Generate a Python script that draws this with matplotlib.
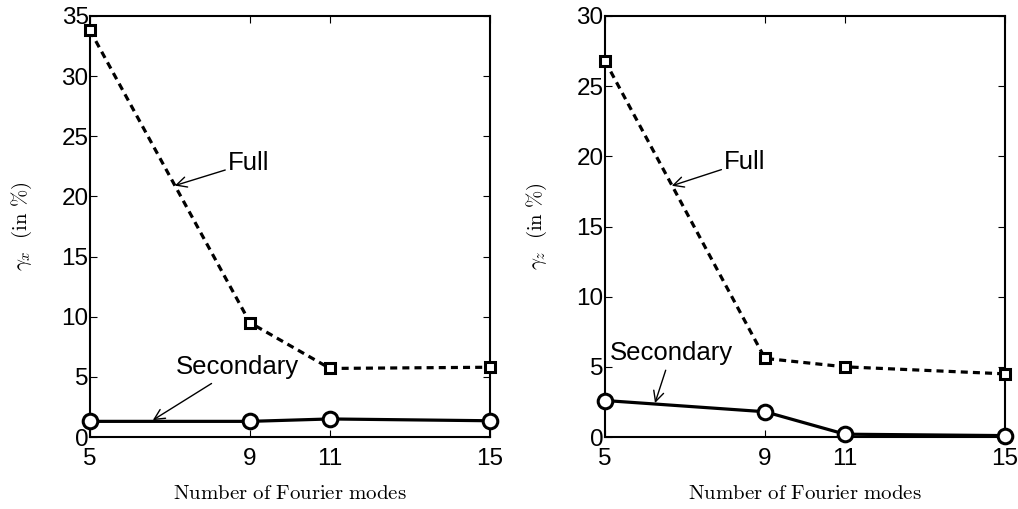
import matplotlib
matplotlib.use('Agg')
import matplotlib.pyplot as plt

plt.rcParams['font.family'] = ['Liberation Sans', 'DejaVu Sans']
plt.rcParams['mathtext.fontset'] = 'cm'

modes = [5, 9, 11, 15]
full_x = [33.8, 9.5, 5.7, 5.8]
sec_x = [1.3, 1.3, 1.5, 1.35]
full_z = [26.8, 5.6, 5.0, 4.5]
sec_z = [2.6, 1.8, 0.2, 0.1]

fig = plt.figure(figsize=(10.18, 5.09), dpi=100)
ax1 = fig.add_axes([90/1018, 1-437/509, 400/1018, 421/509])
ax2 = fig.add_axes([605/1018, 1-437/509, 400/1018, 421/509])


def panel(ax, full, sec, ymax, ylab, full_ann, sec_ann):
    ax.plot(modes, full, color='black', linestyle='--', linewidth=2.3, dashes=(2.2, 1.6),
            marker='s', markersize=7, markerfacecolor='white', markeredgewidth=2.2, clip_on=False, zorder=3)
    ax.plot(modes, sec, color='black', linestyle='-', linewidth=2.3,
            marker='o', markersize=10.5, markerfacecolor='white', markeredgewidth=2.2, clip_on=False, zorder=3)
    ax.set_xlim(5, 15)
    ax.set_ylim(0, ymax)
    ax.set_xticks(modes)
    ax.set_yticks(range(0, ymax + 1, 5))
    ax.tick_params(direction='in', top=True, right=True, labelsize=17.5, length=5)
    ax.tick_params(axis='y', pad=1)
    ax.tick_params(axis='x', pad=8)
    for s in ax.spines.values():
        s.set_linewidth(1.5)
    ax.set_xlabel(r'$\mathrm{Number\ of\ Fourier\ modes}$', fontsize=15, labelpad=10)
    ax.set_ylabel(ylab, fontsize=15, labelpad=20)
    ax.annotate('Full', xy=full_ann[0], xytext=full_ann[1], fontsize=18.5, va='center',
                arrowprops=dict(arrowstyle='->', color='black', lw=1, shrinkA=0, shrinkB=0))
    ax.annotate('Secondary', xy=sec_ann[0], xytext=sec_ann[1], fontsize=18.5, va='center',
                arrowprops=dict(arrowstyle='->', color='black', lw=1, shrinkA=2, shrinkB=0))


panel(ax1, full_x, sec_x, 35, r'$\gamma_x\ \ \mathrm{(in\ \%)}$',
      ((7.12, 20.9), (8.45, 22.8)), ((6.57, 1.4), (7.15, 5.8)))
panel(ax2, full_z, sec_z, 30, r'$\gamma_z\ \ \mathrm{(in\ \%)}$',
      ((6.67, 17.9), (7.98, 19.6)), ((6.25, 2.42), (5.12, 6.0)))

fig.savefig('out.png', dpi=100)
